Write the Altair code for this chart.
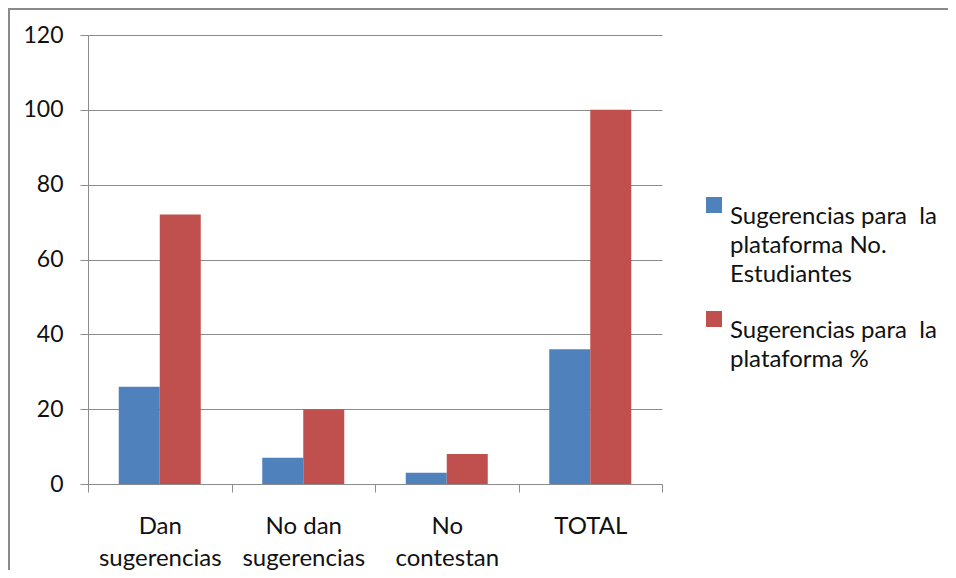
import altair as alt
import pandas as pd

categories = ["Dan\nsugerencias", "No dan\nsugerencias", "No\ncontestan", "TOTAL"]
series = [
    "Sugerencias para \u00a0la\nplataforma No.\nEstudiantes",
    "Sugerencias para \u00a0la\nplataforma %",
]
students = [26, 7, 3, 36]
percent = [72, 20, 8, 100]
y_ticks = [0, 20, 40, 60, 80, 100, 120]
colors = ["#4F81BD", "#C0504D"]

rows = []
for c, a, b in zip(categories, students, percent):
    rows.append({"cat": c, "serie": series[0], "value": a})
    rows.append({"cat": c, "serie": series[1], "value": b})
df = pd.DataFrame(rows)

grid = "#8c8c8c"
font = "Lato"
txt = "#111111"

bars = alt.Chart(df).mark_bar(stroke=None).encode(
    x=alt.X(
        "cat:N",
        sort=categories,
        title=None,
        scale=alt.Scale(paddingInner=0, paddingOuter=0),
        axis=alt.Axis(
            labelExpr="split(datum.label, '\\n')",
            labelAngle=0,
            labelFontSize=24,
            labelLineHeight=32,
            labelPadding=22,
            labelColor=txt,
            labelFont=font,
            tickBand="extent",
            tickSize=8,
            tickColor=grid,
            domainColor=grid,
            grid=False,
        ),
    ),
    xOffset=alt.XOffset(
        "serie:N",
        sort=series,
        scale=alt.Scale(paddingInner=0, paddingOuter=0.75),
    ),
    y=alt.Y(
        "value:Q",
        title=None,
        scale=alt.Scale(domain=[0, 120], nice=False),
        axis=alt.Axis(
            values=y_ticks,
            labelFontSize=23,
            labelColor=txt,
            labelFont=font,
            labelPadding=17,
            tickSize=8,
            tickColor=grid,
            domainColor=grid,
            gridColor=grid,
            grid=True,
        ),
    ),
    color=alt.Color(
        "serie:N",
        sort=series,
        scale=alt.Scale(domain=series, range=colors),
        legend=alt.Legend(
            title=None,
            orient="none",
            legendX=614,
            legendY=158,
            padding=0,
            labelExpr="split(datum.label, '\\n')",
            labelFontSize=24,
            labelFont=font,
            labelColor=txt,
            labelLimit=400,
            labelOffset=4,
            labelBaseline="top",
            symbolType="square",
            symbolSize=256,
            symbolStrokeWidth=0,
            rowPadding=20,
        ),
    ),
)

frame_df = pd.DataFrame({"k": [0]})
frame_top = alt.Chart(frame_df).mark_rule(color="#8a8a8a", strokeWidth=2).encode(
    x=alt.value(-80), x2=alt.value(900), y=alt.value(-26)
)
frame_left = alt.Chart(frame_df).mark_rule(color="#8a8a8a", strokeWidth=2).encode(
    x=alt.value(-79), y=alt.value(-27), y2=alt.value(600)
)

chart = (
    alt.layer(bars, frame_top, frame_left)
    .properties(
        width=574,
        height=449,
        autosize=alt.AutoSizeParams(type="none"),
        padding={"left": 80, "top": 27, "right": 286, "bottom": 86},
        background="white",
    )
    .configure(
        view={"stroke": None},
        style={"guide-label": {"lineHeight": 29}},
    )
)

chart.save("out.html", embed_options={"renderer": "svg", "actions": False})
